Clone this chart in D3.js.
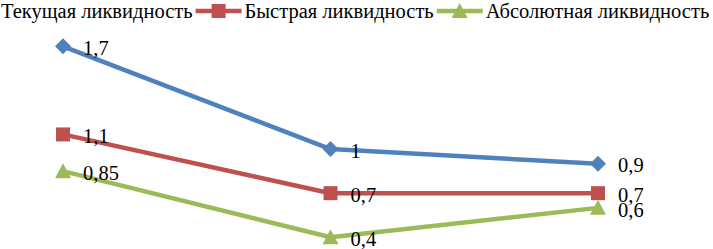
<!DOCTYPE html>
<html>
<head>
<meta charset="utf-8">
<script src="https://cdn.jsdelivr.net/npm/d3@7"></script>
<style>
html,body{margin:0;padding:0;background:#fff;overflow:hidden;}
svg{display:block;}
</style>
</head>
<body>
<script>
const categories = ["Период 1", "Период 2", "Период 3"];
const seriesNames = ["Текущая ликвидность", "Быстрая ликвидность", "Абсолютная ликвидность"];
const currentLiquidity = [1.7, 1, 0.9];
const quickLiquidity = [1.1, 0.7, 0.7];
const absoluteLiquidity = [0.85, 0.4, 0.6];
const labelsCurrent = ["1,7", "1", "0,9"];
const labelsQuick = ["1,1", "0,7", "0,7"];
const labelsAbsolute = ["0,85", "0,4", "0,6"];

const FONT = "'Liberation Serif'";
const FS = 20.5;
const W = 713, H = 249;
const svg = d3.select("body").append("svg").attr("width", W).attr("height", H);

const x = d3.scalePoint().domain(categories).range([63, 598]);
const y = d3.scaleLinear().domain([0, 1.8]).range([296, 31.6]);

const series = [
  {name: seriesNames[0], values: currentLiquidity, labels: labelsCurrent, color: "#4F81BD", shape: "diamond"},
  {name: seriesNames[1], values: quickLiquidity, labels: labelsQuick, color: "#C0504D", shape: "square"},
  {name: seriesNames[2], values: absoluteLiquidity, labels: labelsAbsolute, color: "#9BBB59", shape: "triangle"}
];

function markerPath(shape) {
  if (shape === "diamond") return "M0,-8L8,0L0,8L-8,0Z";
  if (shape === "square") return "M-7,-7L7,-7L7,7L-7,7Z";
  return "M0,-8L8,7L-8,7Z";
}

const line = d3.line().x((d, i) => x(categories[i])).y(d => y(d));

series.forEach(s => {
  const g = svg.append("g");
  g.append("path").datum(s.values)
    .attr("d", line).attr("fill", "none")
    .attr("stroke", s.color).attr("stroke-width", 4.5)
    .attr("stroke-linejoin", "round");
  g.selectAll("path.m").data(s.values).join("path").attr("class", "m")
    .attr("d", markerPath(s.shape))
    .attr("transform", (d, i) => `translate(${x(categories[i])},${y(d)})`)
    .attr("fill", s.color);
});

series.forEach(s => {
  svg.append("g").selectAll("text").data(s.values).join("text")
    .attr("x", (d, i) => x(categories[i]) + 20)
    .attr("y", d => y(d) + 1.5)
    .attr("dy", "0.35em")
    .attr("font-family", FONT)
    .attr("font-size", FS)
    .attr("fill", "#000")
    .text((d, i) => s.labels[i]);
});

// legend
const leg = svg.append("g");
let tx = 1;
series.forEach(s => {
  const it = leg.append("g");
  it.append("line").attr("x1", tx - 49).attr("x2", tx - 3).attr("y1", 11).attr("y2", 11)
    .attr("stroke", s.color).attr("stroke-width", 4.5);
  it.append("path").attr("d", markerPath(s.shape))
    .attr("transform", `translate(${tx - 26},11)`).attr("fill", s.color);
  const t = it.append("text").attr("x", tx).attr("y", 11).attr("dy", "0.35em")
    .attr("font-family", FONT)
    .attr("font-size", FS).attr("fill", "#000").text(s.name);
  tx = tx + t.node().getComputedTextLength() + 52;
});
</script>
</body>
</html>
